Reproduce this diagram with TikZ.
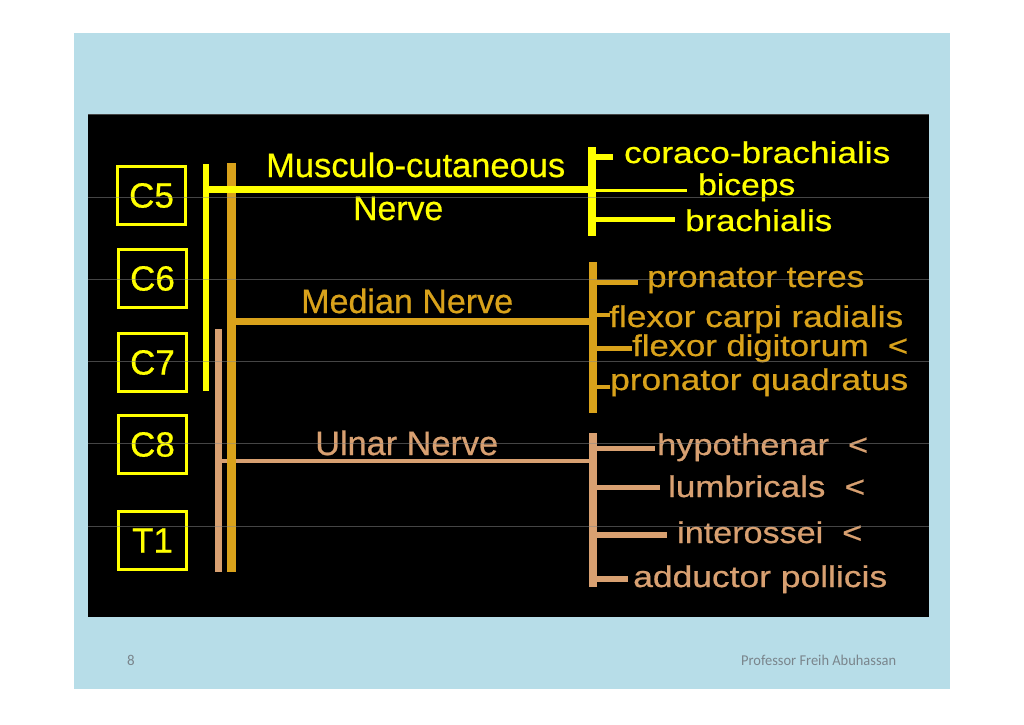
\documentclass[tikz,border=0pt]{standalone}
\usepackage{fontspec}
\setmainfont{Liberation Sans}[FakeBold=0.6]
\newfontfamily\footfont{Carlito}
\usepackage{graphicx}
\definecolor{slideblue}{HTML}{B7DDE8}
\definecolor{ny}{HTML}{FFFF00}
\definecolor{ngold}{HTML}{D9A21B}
\definecolor{ntan}{HTML}{D8A071}
\definecolor{foot}{HTML}{7A858C}
\definecolor{gridgray}{HTML}{8A8A8A}
\newcommand\fw[2]{\resizebox{#1pt}{\height}{#2}}
\begin{document}
\begin{tikzpicture}[x=1pt,y=-1pt,
  lbl/.style={inner sep=0pt, anchor=base west, font=\fontsize{30}{30}\selectfont},
  big/.style={inner sep=0pt, anchor=base west, font=\fontsize{34}{34}\selectfont},
  segbox/.style={draw=ny, line width=2.6pt, minimum width=68pt, minimum height=58pt,
     inner sep=0pt, text=ny, font=\fontsize{35}{35}\selectfont},
  bar/.style={line cap=butt},
  gridline/.style={draw=gridgray, line width=0.7pt},
  footlbl/.style={inner sep=0pt, anchor=base west, text=foot, font=\footfont\fontsize{15}{15}\selectfont}]
\useasboundingbox (0,0) rectangle (1024,724);
\fill[white] (0,0) rectangle (1024,724);
\fill[slideblue] (74,33) rectangle (950,689);
\fill[black] (88,114) rectangle (929,617);

% segment boxes
\node[segbox] (c5) at (151.5,195.5) {C5};
\node[segbox] (c6) at (152.5,278.5) {C6};
\node[segbox] (c7) at (152.5,362.5) {C7};
\node[segbox] (c8) at (152.5,444.5) {C8};
\node[segbox] (t1) at (152.5,540.5) {T1};

% trunk coordinates
\coordinate (ytop) at (206,164);   \coordinate (ybot) at (206,391);
\coordinate (gtop) at (231.5,163); \coordinate (gbot) at (231.5,572);
\coordinate (ttop) at (218.5,329); \coordinate (tbot) at (218.5,572);
\coordinate (yl) at (206,189);   \coordinate (yr) at (592,189);
\coordinate (gl) at (231,321.5); \coordinate (gr) at (593,321.5);
\coordinate (tl) at (218,461);   \coordinate (tr) at (592.5,461);

% right bars
\coordinate (ybt) at (592,147);   \coordinate (ybb) at (592,236);
\coordinate (gbt) at (593,262);   \coordinate (gbb) at (593,413);
\coordinate (tbt) at (592.5,433); \coordinate (tbb) at (592.5,587);

% ulnar (tan)
\draw[bar, ntan, line width=4pt] (tl) -- (tr);
\draw[bar, ntan, line width=7pt] (ttop) -- (tbot);
\draw[bar, ntan, line width=8pt] (tbt) -- (tbb);
% median (gold)
\draw[bar, ngold, line width=9pt] (gtop) -- (gbot);
\draw[bar, ngold, line width=7pt] (gl) -- (gr);
\draw[bar, ngold, line width=8pt] (gbt) -- (gbb);
% musculo-cutaneous (yellow)
\draw[bar, ny, line width=6pt] (ytop) -- (ybot);
\draw[bar, ny, line width=7pt] (yl) -- (yr);
\draw[bar, ny, line width=8pt] (ybt) -- (ybb);

% nerve labels
\node[big, text=ny] (mc) at (266,177) {\fw{299}{Musculo-cutaneous}};
\node[big, text=ny] (mcn) at (353,220) {\fw{90}{Nerve}};
\node[big, text=ngold] (med) at (301,313) {\fw{212}{Median Nerve}};
\node[big, text=ntan] (uln) at (315,455) {\fw{183}{Ulnar Nerve}};

% yellow muscles
\node[lbl, text=ny] (m1) at (624,163) {\fw{266}{coraco-brachialis}};
\node[lbl, text=ny] (m2) at (698,195) {\fw{97}{biceps}};
\node[lbl, text=ny] (m3) at (685,231) {\fw{147}{brachialis}};
\draw[bar, ny, line width=6pt] (592,157) -- (613,157);
\draw[bar, ny, line width=3pt] (592,190) -- (687,190);
\draw[bar, ny, line width=5pt] (592,219) -- (675,219);

% gold muscles
\node[lbl, text=ngold] (m4) at (647,287) {\fw{217}{pronator teres}};
\node[lbl, text=ngold] (m5) at (609,327) {\fw{294}{flexor carpi radialis}};
\node[lbl, text=ngold] (m6) at (632,356) {\fw{276}{flexor digitorum \ <}};
\node[lbl, text=ngold] (m7) at (610,390) {\fw{298}{pronator quadratus}};
\draw[bar, ngold, line width=5pt] (593,282) -- (638,282);
\draw[bar, ngold, line width=4pt] (593,315) -- (610,315);
\draw[bar, ngold, line width=5pt] (593,348) -- (632,348);
\draw[bar, ngold, line width=4pt] (593,387) -- (610,387);

% tan muscles
\node[lbl, text=ntan] (m8) at (657,455) {\fw{211}{hypothenar \ <}};
\node[lbl, text=ntan] (m9) at (668,497) {\fw{197}{lumbricals \ <}};
\node[lbl, text=ntan] (m10) at (677,543) {\fw{185}{interossei \ <}};
\node[lbl, text=ntan] (m11) at (633,587) {\fw{254}{adductor pollicis}};
\draw[bar, ntan, line width=5pt] (592.5,448) -- (655,448);
\draw[bar, ntan, line width=5pt] (592.5,487) -- (660,487);
\draw[bar, ntan, line width=6pt] (592.5,535) -- (667,535);
\draw[bar, ntan, line width=6pt] (592.5,579) -- (628,579);

% faint rendering lines
\foreach \yy in {114,197,279,361,443,526}
  \draw[gridline, opacity=0.5] (88,\yy) -- (929,\yy);

% footer
\node[footlbl] (pg) at (127,665) {8};
\node[footlbl] (auth) at (741,665) {\fw{155}{Professor Freih Abuhassan}};
\end{tikzpicture}
\end{document}
